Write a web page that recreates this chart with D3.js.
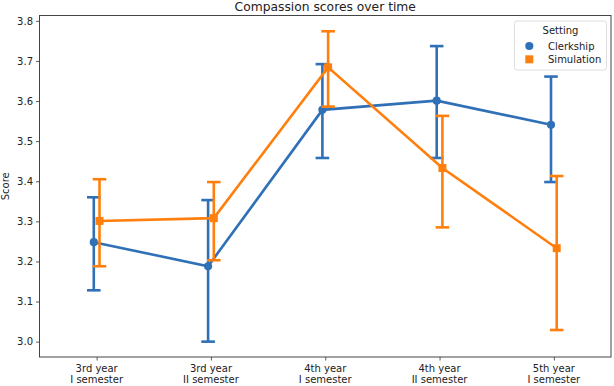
<!DOCTYPE html>
<html>
<head>
<meta charset="utf-8">
<script src="https://cdn.jsdelivr.net/npm/d3@7"></script>
<style>
  body { margin: 0; background: #fff; }
  svg { font-family: "DejaVu Sans", sans-serif; }
</style>
</head>
<body>
<svg id="chart"></svg>
<script>
let categories = [
    ["3rd year", "I semester"],
    ["3rd year", "II semester"],
    ["4th year", "I semester"],
    ["4th year", "II semester"],
    ["5th year", "I semester"]
];

let clerkshipMean = [3.248, 3.188, 3.578, 3.601, 3.541];
let clerkshipLow  = [3.128, 3.000, 3.458, 3.458, 3.398];
let clerkshipHigh = [3.360, 3.353, 3.692, 3.737, 3.661];

let simulationMean = [3.301, 3.308, 3.684, 3.433, 3.233];
let simulationLow  = [3.188, 3.203, 3.586, 3.285, 3.029];
let simulationHigh = [3.405, 3.398, 3.774, 3.563, 3.413];

let yTicks = [3.0, 3.1, 3.2, 3.3, 3.4, 3.5, 3.6, 3.7, 3.8];

let width = 614;
let height = 386;
let plotLeft = 39.5;
let plotRight = 611;
let plotTop = 15.5;
let plotBottom = 357;

let blue = "#2f70b6";
let orange = "#ff7f0e";
let textColor = "#222";

let svg = d3.select("#chart")
    .attr("width", width)
    .attr("height", height);

let keys = categories.map((c) => c.join(" "));

let xScale = d3.scalePoint()
    .domain(keys)
    .range([plotLeft, plotRight])
    .padding(0.5);

let yScale = d3.scaleLinear()
    .domain([2.9617, 3.8133])
    .range([plotBottom, plotTop]);

let dodge = xScale.step() * 0.025;

let series = [
    { name: "Clerkship", color: blue, mean: clerkshipMean, low: clerkshipLow, high: clerkshipHigh, shift: -dodge, shape: "circle" },
    { name: "Simulation", color: orange, mean: simulationMean, low: simulationLow, high: simulationHigh, shift: dodge, shape: "square" }
];

// axes
let yAxis = d3.axisLeft(yScale)
    .tickValues(yTicks)
    .tickFormat(d3.format(".1f"))
    .tickSizeOuter(0)
    .tickSize(3.5)
    .tickPadding(3);

let yG = svg.append("g")
    .attr("transform", "translate(" + plotLeft + ",0)")
    .call(yAxis);
yG.select(".domain").remove();
yG.selectAll("line").attr("stroke", "#333").attr("stroke-width", 0.8);
yG.selectAll("text").attr("font-size", 10).attr("fill", textColor).attr("font-family", "DejaVu Sans");

let xAxis = d3.axisBottom(xScale)
    .tickSizeOuter(0)
    .tickSize(3.5)
    .tickFormat("");

let xG = svg.append("g")
    .attr("transform", "translate(0," + plotBottom + ")")
    .call(xAxis);
xG.select(".domain").remove();
xG.selectAll("line").attr("stroke", "#333").attr("stroke-width", 0.8);

svg.append("g")
    .selectAll("text")
    .data(categories)
    .enter()
    .append("text")
    .attr("text-anchor", "middle")
    .attr("font-size", 10)
    .attr("fill", textColor)
    .attr("x", (d) => xScale(d.join(" ")))
    .attr("y", plotBottom + 15)
    .selectAll("tspan")
    .data((d) => d)
    .enter()
    .append("tspan")
    .attr("x", function () { return d3.select(this.parentNode).attr("x"); })
    .attr("dy", (d, i) => i === 0 ? 0 : 11.2)
    .text((d) => d);

// plot frame
svg.append("rect")
    .attr("x", plotLeft)
    .attr("y", plotTop)
    .attr("width", plotRight - plotLeft)
    .attr("height", plotBottom - plotTop)
    .attr("fill", "none")
    .attr("stroke", "#444")
    .attr("stroke-width", 1);

// series
let capHalf = 6.8;

series.forEach((s) => {
    let g = svg.append("g");
    let px = (i) => xScale(keys[i]) + s.shift;

    g.append("path")
        .datum(s.mean)
        .attr("fill", "none")
        .attr("stroke", s.color)
        .attr("stroke-width", 2.6)
        .attr("d", d3.line()
            .x((d, i) => px(i))
            .y((d) => yScale(d)));

    s.mean.forEach((m, i) => {
        let x = px(i);
        g.append("line")
            .attr("x1", x).attr("x2", x)
            .attr("y1", yScale(s.low[i])).attr("y2", yScale(s.high[i]))
            .attr("stroke", s.color).attr("stroke-width", 2.6);
        [s.low[i], s.high[i]].forEach((v) => {
            g.append("line")
                .attr("x1", x - capHalf).attr("x2", x + capHalf)
                .attr("y1", yScale(v)).attr("y2", yScale(v))
                .attr("stroke", s.color).attr("stroke-width", 2.6);
        });
    });

    let sym = d3.symbol()
        .type(s.shape === "circle" ? d3.symbolCircle : d3.symbolSquare)
        .size(s.shape === "circle" ? 52 : 64);

    g.selectAll(".pt")
        .data(s.mean)
        .enter()
        .append("path")
        .attr("d", sym)
        .attr("fill", s.color)
        .attr("transform", (d, i) => "translate(" + px(i) + "," + yScale(d) + ")");
});

// title and y label
svg.append("text")
    .attr("x", (plotLeft + plotRight) / 2)
    .attr("y", 11)
    .attr("text-anchor", "middle")
    .attr("font-size", 12.3)
    .attr("fill", textColor)
    .text("Compassion scores over time");

svg.append("text")
    .attr("transform", "translate(9," + ((plotTop + plotBottom) / 2) + ") rotate(-90)")
    .attr("text-anchor", "middle")
    .attr("font-size", 10)
    .attr("fill", textColor)
    .text("Score");

// legend
let legend = svg.append("g");
legend.append("rect")
    .attr("x", 514.5)
    .attr("y", 21)
    .attr("width", 92)
    .attr("height", 49)
    .attr("rx", 2.5)
    .attr("fill", "rgba(255,255,255,0.8)")
    .attr("stroke", "#d6d6d6")
    .attr("stroke-width", 0.8);

legend.append("text")
    .attr("x", 560.5)
    .attr("y", 33.5)
    .attr("text-anchor", "middle")
    .attr("font-size", 10)
    .attr("fill", textColor)
    .text("Setting");

series.forEach((s, i) => {
    let ly = 46 + i * 13.3;
    legend.append("path")
        .attr("d", d3.symbol()
            .type(s.shape === "circle" ? d3.symbolCircle : d3.symbolSquare)
            .size(s.shape === "circle" ? 52 : 64))
        .attr("fill", s.color)
        .attr("transform", "translate(529.3," + ly + ")");
    legend.append("text")
        .attr("x", 548)
        .attr("y", ly + 3.6)
        .attr("font-size", 10)
        .attr("fill", textColor)
        .text(s.name);
});
</script>
</body>
</html>
